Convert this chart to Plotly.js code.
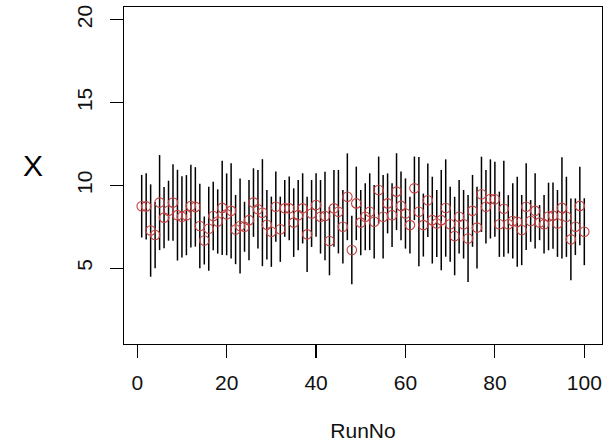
<!DOCTYPE html>
<html>
<head>
<meta charset="utf-8">
<script src="https://cdn.plot.ly/plotly-3.0.1.min.js"></script>
<style>html,body{margin:0;padding:0;background:#fff;}#chart{width:611px;height:444px;}</style>
</head>
<body>
<div id="chart"></div>
<script>
// Run numbers
var runNo = [];
for (var k = 1; k <= 100; k++) runNo.push(k);

// Mean X per run
var xMean = [
  8.74, 8.73, 7.27, 7.00, 8.96, 8.05, 8.47, 8.96, 8.20, 8.10,
  8.20, 8.75, 8.70, 7.55, 6.67, 7.38, 8.15, 7.82, 8.64, 8.25,
  8.46, 7.33, 7.55, 7.50, 7.90, 8.96, 8.56, 8.35, 7.62, 7.20,
  8.71, 7.35, 8.61, 8.61, 7.75, 8.20, 8.61, 7.04, 8.30, 8.81,
  8.10, 8.15, 6.64, 8.61, 8.41, 7.50, 9.31, 6.10, 8.91, 7.75,
  8.10, 8.41, 7.80, 9.72, 8.10, 8.91, 8.20, 9.62, 8.76, 8.30,
  7.60, 9.82, 8.41, 7.60, 9.10, 7.90, 7.70, 7.90, 8.63, 7.65,
  6.94, 8.10, 7.65, 6.79, 8.46, 7.45, 9.46, 8.71, 9.18, 9.16,
  7.65, 8.59, 7.65, 7.85, 7.80, 7.30, 8.71, 7.85, 8.46, 7.75,
  7.65, 8.12, 8.17, 7.70, 8.64, 8.10, 6.74, 7.50, 8.76, 7.20
];

// Half-length of each vertical bar
var xErr = [
  1.89, 2.00, 2.79, 2.00, 2.87, 1.85, 1.81, 2.31, 2.74, 2.45,
  2.42, 2.50, 2.40, 2.55, 1.45, 2.54, 2.07, 1.94, 2.85, 2.47,
  2.87, 2.09, 2.87, 1.51, 2.42, 2.07, 2.37, 3.23, 2.10, 2.12,
  2.12, 1.97, 1.71, 1.92, 2.07, 2.12, 2.12, 2.27, 2.02, 1.92,
  2.22, 2.67, 2.07, 2.32, 2.52, 2.22, 2.62, 2.07, 2.22, 1.97,
  2.02, 2.32, 2.22, 2.02, 2.52, 1.81, 1.92, 2.32, 2.07, 2.12,
  1.71, 1.92, 3.30, 1.90, 2.22, 2.62, 2.02, 3.02, 2.94, 2.27,
  2.37, 2.22, 2.07, 2.62, 2.17, 2.47, 2.27, 2.22, 2.39, 2.27,
  1.97, 2.90, 1.76, 2.27, 2.72, 2.12, 2.62, 1.26, 2.27, 1.06,
  1.76, 2.04, 2.00, 2.02, 3.05, 2.42, 2.47, 1.71, 2.37, 2.02
];

var xTicks = [0, 20, 40, 60, 80, 100];
var yTicks = [5, 10, 15, 20];

var FONT = '"Liberation Sans", Arial, sans-serif';

var trace = {
  x: runNo,
  y: xMean,
  type: 'scatter',
  mode: 'markers',
  marker: {symbol: 'circle-open', size: 9.5, color: 'rgb(196,64,64)', line: {width: 1.1, color: 'rgb(196,64,64)'}},
  error_y: {type: 'data', array: xErr, visible: true, width: 0, thickness: 1.5, color: '#000'},
  hoverinfo: 'skip',
  showlegend: false
};

var axisCommon = {
  showgrid: false, zeroline: false,
  showline: true, mirror: true, linecolor: '#000', linewidth: 1.2,
  ticks: 'outside', ticklen: 13, tickwidth: 1.2, tickcolor: '#000',
  tickfont: {family: FONT, size: 21, color: '#111'},
  tickmode: 'array'
};

var layout = {
  width: 611, height: 444,
  margin: {l: 124, r: 9, t: 7, b: 100, pad: 0},
  paper_bgcolor: '#fff', plot_bgcolor: '#fff',
  font: {family: FONT, color: '#111'},
  xaxis: Object.assign({}, axisCommon, {
    range: [-2.96, 103.96], tickvals: xTicks, ticktext: xTicks.map(String),
    ticklabelstandoff: 7,
    title: {text: 'RunNo', font: {family: FONT, size: 21, color: '#111'}, standoff: 29}
  }),
  yaxis: Object.assign({}, axisCommon, {
    range: [0.42, 20.77], tickvals: yTicks, ticktext: yTicks.map(String),
    tickangle: -90, ticklabelstandoff: 9
  }),
  annotations: [{
    text: 'X', xref: 'paper', yref: 'paper', x: -0.191, y: 0.531,
    xanchor: 'center', yanchor: 'middle', showarrow: false,
    font: {family: FONT, size: 30, color: '#000'}
  }]
};

Plotly.newPlot('chart', [trace], layout, {staticPlot: true, displayModeBar: false});
</script>
</body>
</html>
